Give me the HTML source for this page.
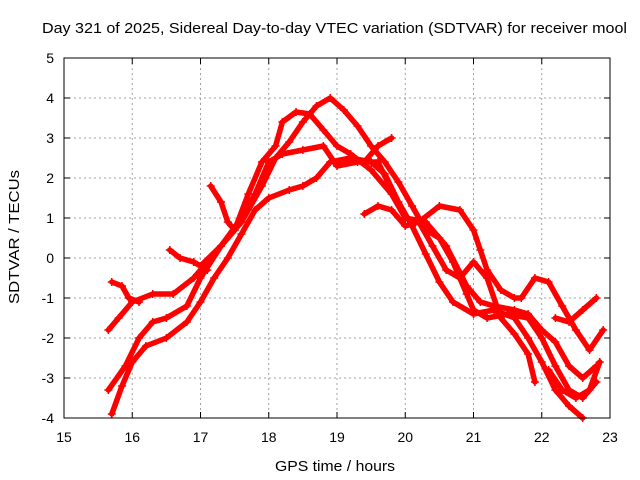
<!DOCTYPE html>
<html><head><meta charset="utf-8"><style>
body{margin:0;background:#fff}
svg{display:block;font-family:"Liberation Sans",sans-serif}
</style></head><body>
<svg id="chart" width="640" height="480" viewBox="0 0 640 480" xmlns="http://www.w3.org/2000/svg">
<rect width="640" height="480" fill="#fff"/>
<text x="42" y="33" font-size="15" textLength="585" lengthAdjust="spacingAndGlyphs">Day 321 of 2025, Sidereal Day-to-day VTEC variation (SDTVAR) for receiver mool</text>
<g id="grid"></g>
<g id="series"></g>
<rect x="64" y="58" width="546" height="360" fill="none" stroke="#000" stroke-width="1"/>
<g id="ticks"></g>
<text x="275" y="471" font-size="15" textLength="120" lengthAdjust="spacingAndGlyphs">GPS time / hours</text>
<text transform="translate(19,304) rotate(-90)" font-size="15" textLength="134" lengthAdjust="spacingAndGlyphs">SDTVAR / TECUs</text>
</svg>
<script>
const xTicks=[15,16,17,18,19,20,21,22,23];
const yTicks=[-4,-3,-2,-1,0,1,2,3,4,5];
const s1=[[15.7,-3.9],[15.85,-3.2],[16.0,-2.6],[16.2,-2.2],[16.5,-2.0],[16.8,-1.6],[17.0,-1.1],[17.2,-0.5],[17.4,0.0],[17.6,0.6],[17.8,1.2],[18.0,1.5],[18.3,1.7],[18.5,1.8],[18.7,2.0],[18.9,2.4],[19.2,2.5],[19.5,2.4],[19.7,2.1],[19.9,1.4],[20.1,0.8],[20.3,0.1],[20.5,-0.6],[20.7,-1.1],[21.0,-1.4],[21.3,-1.3],[21.6,-1.5],[21.8,-2.0],[22.0,-2.6],[22.2,-3.3],[22.4,-3.7],[22.6,-4.0]];
const s2=[[15.65,-3.3],[15.9,-2.7],[16.1,-2.0],[16.3,-1.6],[16.5,-1.5],[16.8,-1.2],[17.0,-0.5],[17.3,0.3],[17.6,1.0],[17.8,1.6],[18.0,2.4],[18.2,2.6],[18.5,2.7],[18.8,2.8],[19.0,2.3],[19.3,2.4],[19.6,2.4],[19.8,1.7],[20.0,1.0],[20.2,0.9],[20.4,0.3],[20.6,-0.3],[20.8,-0.5],[21.0,-0.1],[21.2,-0.5],[21.4,-1.5],[21.6,-1.9],[21.8,-2.4],[21.9,-3.1]];
const s3=[[15.65,-1.8],[15.8,-1.5],[16.0,-1.1],[16.3,-0.9],[16.6,-0.9],[16.9,-0.5],[17.2,0.1],[17.5,0.7],[17.7,1.6],[17.9,2.4],[18.1,2.8],[18.2,3.4],[18.4,3.65],[18.6,3.6],[18.8,3.2],[19.0,2.8],[19.2,2.6],[19.5,2.2],[19.8,1.6],[20.0,1.0],[20.3,0.9],[20.6,0.3],[20.9,-0.7],[21.1,-1.1],[21.3,-1.2],[21.6,-1.3],[21.8,-1.4],[22.0,-1.8],[22.2,-2.1],[22.4,-2.7],[22.6,-3.0],[22.8,-2.7]];
const s4=[[17.0,-0.2],[17.3,0.3],[17.6,0.9],[17.9,1.8],[18.1,2.5],[18.3,2.9],[18.5,3.4],[18.7,3.8],[18.9,4.0],[19.1,3.7],[19.3,3.3],[19.5,2.8],[19.7,2.4],[19.9,1.9],[20.1,1.3],[20.3,0.7],[20.5,0.5],[20.7,-0.1],[20.9,-0.9],[21.0,-1.3],[21.2,-1.5],[21.5,-1.4],[21.8,-1.5],[22.0,-2.0],[22.2,-2.7],[22.4,-3.3],[22.6,-3.5],[22.8,-3.1]];
const s5=[[19.4,1.1],[19.6,1.3],[19.8,1.2],[20.0,0.8],[20.2,0.9],[20.5,1.3],[20.8,1.2],[21.0,0.7],[21.1,0.2],[21.2,-0.3],[21.4,-0.8],[21.6,-1.0],[21.7,-1.0],[21.9,-0.5],[22.1,-0.6],[22.3,-1.2],[22.5,-1.8],[22.7,-2.3],[22.9,-1.8]];
const s6=[[17.15,1.8],[17.3,1.4],[17.4,0.9],[17.5,0.7]];
const s7=[[16.55,0.2],[16.7,0.0],[16.9,-0.1],[17.1,-0.3]];
const s8=[[15.7,-0.6],[15.85,-0.7],[15.95,-1.0],[16.1,-1.1]];
const s9=[[22.2,-1.5],[22.4,-1.6],[22.6,-1.3],[22.8,-1.0]];
const s10=[[19.4,2.4],[19.6,2.8],[19.8,3.0]];
const s11=[[22.1,-2.8],[22.3,-3.3],[22.5,-3.5],[22.7,-3.3],[22.85,-2.6]];
const allSeries=[s1,s2,s3,s4,s5,s6,s7,s8,s9,s10,s11];
const NS="http://www.w3.org/2000/svg";
const L=64,R=610,T=58,B=418;
function xs(h){return L+(h-15)/(23-15)*(R-L);}
function ys(v){return B-(v+4)/(5+4)*(B-T);}
const grid=document.getElementById('grid'),ticks=document.getElementById('ticks'),ser=document.getElementById('series');
function mk(tag,attrs,parent){const e=document.createElementNS(NS,tag);for(const k in attrs)e.setAttribute(k,attrs[k]);parent.appendChild(e);return e;}
xTicks.forEach(t=>{const x=xs(t);
 if(t>15&&t<23){const g=mk('line',{x1:x,x2:x,y1:T,y2:B,stroke:'#a0a0a0','stroke-dasharray':'2,3'},grid);
  
  }
 const a=mk('line',{x1:x,x2:x,y1:B,y2:B-6,stroke:'#000'},ticks);
 
 
 const b=mk('line',{x1:x,x2:x,y1:T,y2:T+6,stroke:'#000'},ticks);
 
 
 const lb=mk('text',{x:x,y:B+24,'font-size':14,'text-anchor':'middle'},ticks);lb.textContent=t;
 
 
});
yTicks.forEach(t=>{const y=ys(t);
 if(t>-4&&t<5){const g=mk('line',{x1:L,x2:R,y1:y,y2:y,stroke:'#a0a0a0','stroke-dasharray':'2,3'},grid);
  
  }
 const a=mk('line',{x1:L,x2:L+6,y1:y,y2:y,stroke:'#000'},ticks);
 
 
 const b=mk('line',{x1:R,x2:R-6,y1:y,y2:y,stroke:'#000'},ticks);
 
 
 const lb=mk('text',{x:L-10,y:y+5,'font-size':14,'text-anchor':'end'},ticks);lb.textContent=t;
 
 
});
allSeries.forEach((s,i)=>{
 const pts=s.map(p=>xs(p[0]).toFixed(1)+','+ys(p[1]).toFixed(1)).join(' ');
 const pl=mk('polyline',{points:pts,fill:'none',stroke:'#ff0000','stroke-width':5.5,'stroke-linejoin':'round','stroke-linecap':'round'},ser);
 
 
 s.forEach(p=>{const x=xs(p[0]),y=ys(p[1]);
  const m=mk('path',{d:`M${x-4},${y}H${x+4}M${x},${y-4}V${y+4}`,stroke:'#ff0000','stroke-width':1.5},ser);
  
  
 });
});
</script>
</body></html>
